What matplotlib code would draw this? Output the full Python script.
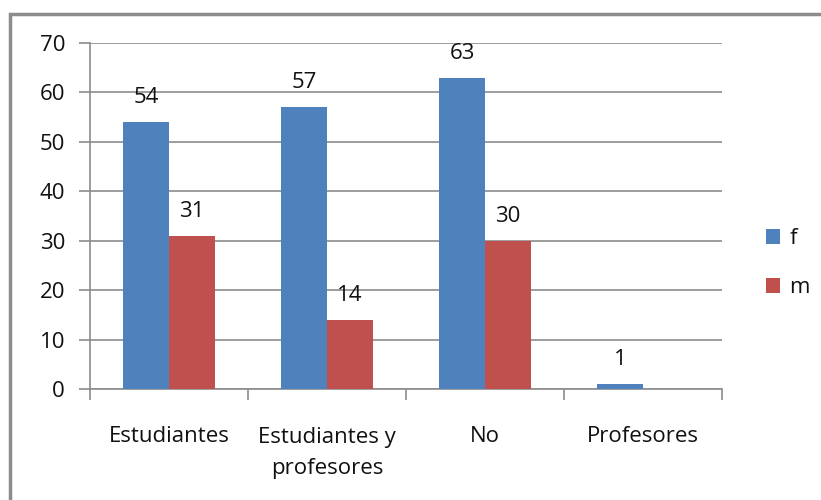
import matplotlib
matplotlib.use("Agg")
import matplotlib.pyplot as plt
from matplotlib.patches import Rectangle
import numpy as np

categories = ["Estudiantes", "Estudiantes y\nprofesores", "No", "Profesores"]
f_values = [54, 57, 63, 1]
m_values = [31, 14, 30, 0]
series_names = ["f", "m"]
colors = ["#4F81BD", "#C0504D"]
yticks = [0, 10, 20, 30, 40, 50, 60, 70]

plt.rcParams['font.family'] = ['Open Sans', 'DejaVu Sans']
FS = 16
TXT = "#111111"

W, H = 821, 500
fig = plt.figure(figsize=(W / 100, H / 100), dpi=100)
fig.patch.set_facecolor("white")

# outer border (extends past right and bottom edges)
fig.patches.append(Rectangle((9.5 / W, -0.1), 1.2, (H - 13.5) / H + 0.1,
                             transform=fig.transFigure, fill=False,
                             edgecolor="#8c8c8c", linewidth=2.5))

ax = fig.add_axes([90 / W, 1 - 389 / H, (722 - 90) / W, (389 - 43) / H])
x = np.arange(len(categories))
bw = 0.288
ax.bar(x - bw / 2, f_values, bw, color=colors[0], label=series_names[0], zorder=3)
ax.bar(x + bw / 2, m_values, bw, color=colors[1], label=series_names[1], zorder=3)

for xi, v in zip(x, f_values):
    ax.text(xi - bw / 2, v + 3.85, str(v), ha="center", va="baseline", fontsize=FS, color=TXT)
for xi, v in zip(x, m_values):
    if v > 0:
        ax.text(xi + bw / 2, v + 3.85, str(v), ha="center", va="baseline", fontsize=FS, color=TXT)

ax.set_xlim(-0.5, len(categories) - 0.5)
ax.set_ylim(0, 70)
ax.set_yticks(yticks)
ax.set_yticklabels([str(t) for t in yticks], fontsize=FS, color=TXT)
ax.yaxis.grid(True, color="#8c8c8c", linewidth=1.2, zorder=0)
ax.set_axisbelow(True)

ax.set_xticks(np.arange(-0.5, len(categories), 1.0))
ax.set_xticklabels([])
ax.set_xticks(x, minor=True)
ax.set_xticklabels(categories, minor=True, fontsize=FS, linespacing=1.65, color=TXT)
ax.tick_params(axis="x", which="minor", length=0, pad=27)
ax.tick_params(axis="x", which="major", length=8, width=1.2, color="#8c8c8c", direction="out")
ax.tick_params(axis="y", length=8, width=1.2, color="#8c8c8c", direction="out", pad=10)

for s in ["top", "right"]:
    ax.spines[s].set_visible(False)
for s in ["left", "bottom"]:
    ax.spines[s].set_color("#8c8c8c")
    ax.spines[s].set_linewidth(1.2)

leg = fig.legend(loc="center left", bbox_to_anchor=(746 / W, 1 - 263 / H), frameon=False,
                 fontsize=FS, handlelength=0.65, handleheight=0.65, labelspacing=1.25,
                 handletextpad=0.4)
for t in leg.get_texts():
    t.set_color(TXT)

fig.savefig("out.png", dpi=100, facecolor="white")
